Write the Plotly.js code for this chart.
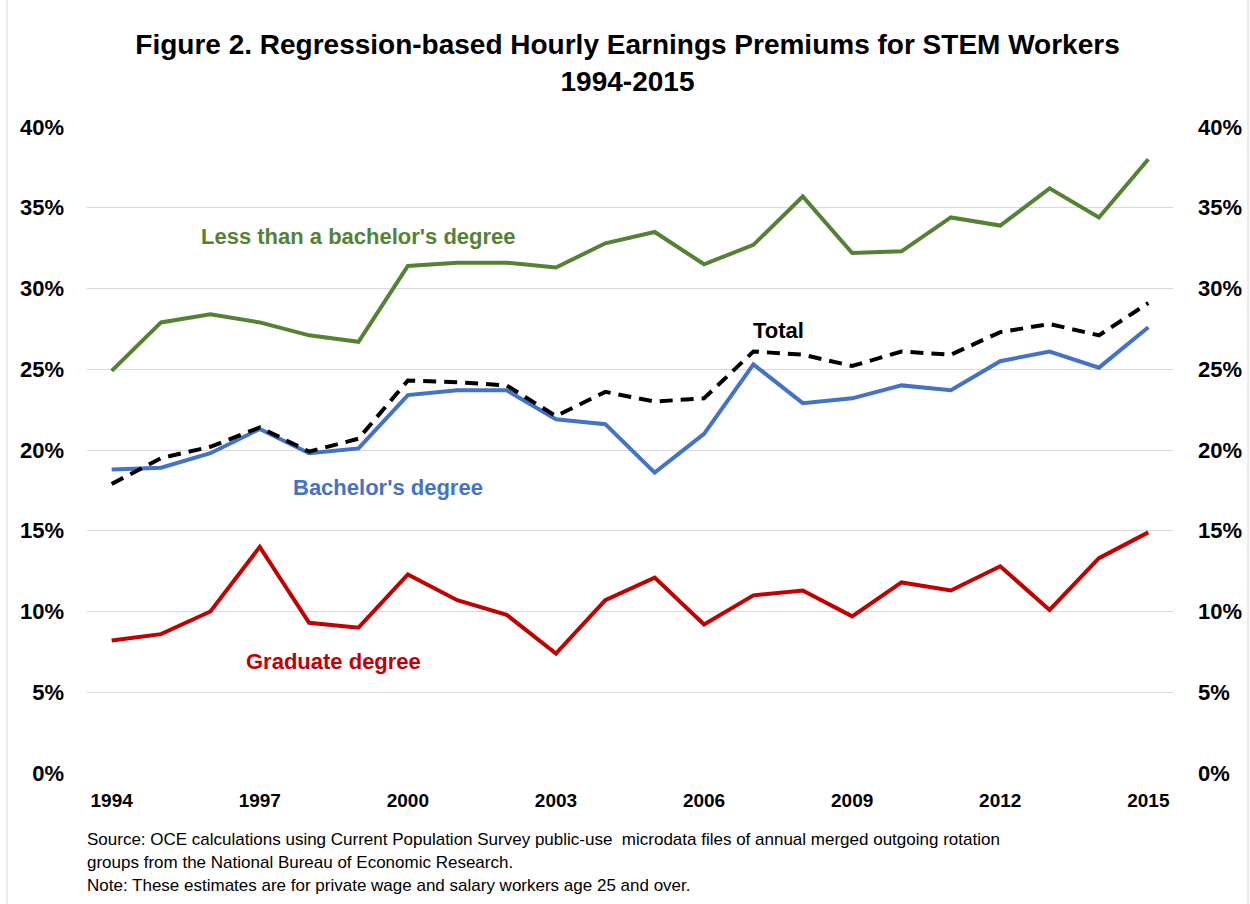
<!DOCTYPE html>
<html>
<head>
<meta charset="utf-8">
<script src="https://cdn.plot.ly/plotly-3.0.1.min.js"></script>
<style>
  body { margin: 0; background: #fff; }
  #chart { width: 1250px; height: 904px; }
</style>
</head>
<body>
<div id="chart"></div>
<script>
var years = [1994, 1995, 1996, 1997, 1998, 1999, 2000, 2001, 2002, 2003, 2004,
             2005, 2006, 2007, 2008, 2009, 2010, 2011, 2012, 2013, 2014, 2015];

// premiums in percent
var lessThanBachelor = [24.9, 27.9, 28.4, 27.9, 27.1, 26.7, 31.4, 31.6, 31.6, 31.3, 32.8,
                        33.5, 31.5, 32.7, 35.7, 32.2, 32.3, 34.4, 33.9, 36.2, 34.4, 38.0];
var bachelor = [18.8, 18.9, 19.8, 21.3, 19.8, 20.1, 23.4, 23.7, 23.7, 21.9, 21.6,
                18.6, 21.0, 25.3, 22.9, 23.2, 24.0, 23.7, 25.5, 26.1, 25.1, 27.6];
var graduate = [8.2, 8.6, 10.0, 14.0, 9.3, 9.0, 12.3, 10.7, 9.8, 7.4, 10.7,
                12.1, 9.2, 11.0, 11.3, 9.7, 11.8, 11.3, 12.8, 10.1, 13.3, 14.9];
var total = [17.9, 19.5, 20.2, 21.4, 19.9, 20.7, 24.3, 24.2, 24.0, 22.1, 23.6,
             23.0, 23.2, 26.1, 25.9, 25.2, 26.1, 25.9, 27.3, 27.8, 27.1, 29.1];

var yearTicks = [1994, 1997, 2000, 2003, 2006, 2009, 2012, 2015];
var pctTicks = [0, 5, 10, 15, 20, 25, 30, 35, 40];
var pctLabels = pctTicks.map(function (v) { return v + '%'; });

var font = 'Liberation Sans, Arial, sans-serif';

var green = '#548235', blue = '#4472C4', red = '#C00000';

var traces = [
  { x: years, y: lessThanBachelor, mode: 'lines', line: { color: green, width: 4 }, name: "Less than a bachelor's degree" },
  { x: years, y: bachelor, mode: 'lines', line: { color: blue, width: 4 }, name: "Bachelor's degree" },
  { x: years, y: graduate, mode: 'lines', line: { color: red, width: 4 }, name: 'Graduate degree' },
  { x: years, y: total, mode: 'lines', line: { color: '#000', width: 4, dash: '13px,8px' }, name: 'Total' },
  // same total on the right axis, invisible, so the mirror axis gets drawn
  { x: years, y: total, yaxis: 'y2', mode: 'lines', line: { width: 0 }, opacity: 0, hoverinfo: 'skip', showlegend: false }
];

var noteFont = { family: font, size: 17, color: '#000' };
var tickFont = { family: font, size: 22, color: '#000', weight: 'bold' };

var layout = {
  width: 1250,
  height: 904,
  margin: { l: 87, r: 77, t: 127, b: 131 },
  paper_bgcolor: '#fff',
  plot_bgcolor: '#fff',
  showlegend: false,
  font: { family: font, color: '#000' },
  title: {
    text: '<b>Figure 2. Regression-based Hourly Earnings Premiums for STEM Workers<br>1994-2015</b>',
    font: { family: font, size: 28, color: '#000' },
    x: 0.502, xanchor: 'center',
    y: 0.94, yanchor: 'top', yref: 'container'
  },
  xaxis: {
    range: [1993.5, 2015.5],
    tickvals: yearTicks,
    ticktext: yearTicks.map(String),
    showgrid: false,
    zeroline: false,
    showline: false,
    ticks: '',
    ticklabelstandoff: 14,
    tickfont: { family: font, size: 19, color: '#000', weight: 'bold' }
  },
  yaxis: {
    range: [0, 40],
    tickvals: pctTicks,
    ticktext: pctLabels,
    showgrid: true,
    gridcolor: '#d9d9d9',
    gridwidth: 1,
    zeroline: false,
    showline: false,
    ticks: '',
    ticklabelstandoff: 22,
    tickfont: tickFont
  },
  yaxis2: {
    range: [0, 40],
    overlaying: 'y',
    side: 'right',
    tickvals: pctTicks,
    ticktext: pctLabels,
    showgrid: false,
    zeroline: false,
    showline: false,
    ticks: '',
    ticklabelstandoff: 24,
    tickfont: tickFont
  },
  // thin frame edges of the original chart box
  shapes: [
    { type: 'line', xref: 'paper', yref: 'paper', x0: -0.0737, x1: -0.0737, y0: -0.21, y1: 1.2,
      line: { color: '#d9d9d9', width: 1 } },
    { type: 'line', xref: 'paper', yref: 'paper', x0: 1.0691, x1: 1.0691, y0: -0.21, y1: 1.2,
      line: { color: '#d9d9d9', width: 1 } }
  ],
  annotations: [
    { text: "<b>Less than a bachelor's degree</b>", x: 1999.0, y: 33.2, showarrow: false,
      font: { family: font, size: 22, color: green } },
    { text: '<b>Total</b>', x: 2007.5, y: 27.4, showarrow: false,
      font: { family: font, size: 22, color: '#000' } },
    { text: "<b>Bachelor's degree</b>", x: 1999.6, y: 17.7, showarrow: false,
      font: { family: font, size: 22, color: blue } },
    { text: '<b>Graduate degree</b>', x: 1998.5, y: 6.9, showarrow: false,
      font: { family: font, size: 22, color: red } },
    { text: 'Source: OCE calculations using Current Population Survey public-use  microdata files of annual merged outgoing rotation',
      xref: 'paper', yref: 'paper', x: -0.002, y: -0.1037, xanchor: 'left', yanchor: 'middle',
      showarrow: false, font: noteFont },
    { text: 'groups from the National Bureau of Economic Research.',
      xref: 'paper', yref: 'paper', x: -0.002, y: -0.1393, xanchor: 'left', yanchor: 'middle',
      showarrow: false, font: noteFont },
    { text: 'Note: These estimates are for private wage and salary workers age 25 and over.',
      xref: 'paper', yref: 'paper', x: -0.002, y: -0.1749, xanchor: 'left', yanchor: 'middle',
      showarrow: false, font: noteFont }
  ]
};

Plotly.newPlot('chart', traces, layout, { displayModeBar: false, staticPlot: true });
</script>
</body>
</html>
